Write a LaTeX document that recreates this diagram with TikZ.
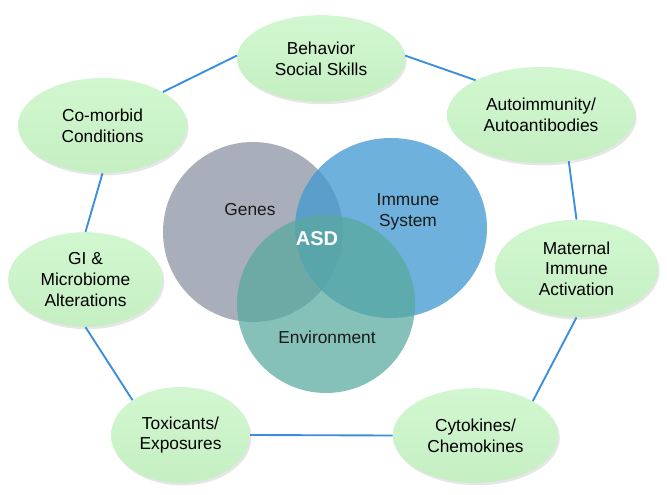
\documentclass[tikz,border=0pt]{standalone}
\usepackage{fontspec}
\setmainfont{Liberation Sans}
\usetikzlibrary{shapes.geometric,shadows}
\definecolor{leaftop}{HTML}{D2F7D0}
\definecolor{leafbot}{HTML}{C5EFC3}
\definecolor{linkblue}{HTML}{3A8EDB}
\definecolor{genesgray}{HTML}{A9AFBA}
\definecolor{immuneblue}{RGB}{67,154,210}
\definecolor{envteal}{RGB}{88,169,158}
\begin{document}
\begin{tikzpicture}[x=0.75pt,y=-0.75pt,
  factor/.style={ellipse, inner sep=0pt, top color=leaftop, bottom color=leafbot, draw=none,
    drop shadow={opacity=0.2, shadow xshift=1.2pt, shadow yshift=-1.8pt},
    align=center, font=\fontsize{13}{15.5}\selectfont, text=black},
  link/.style={draw=linkblue, line width=1.4pt},
  venn/.style={ellipse, inner sep=0pt, draw=none},
  vlabel/.style={font=\fontsize{13}{15.5}\selectfont, align=center, text=black!90}]
\useasboundingbox (0,0) rectangle (667,495);

% Venn circles
\node[venn, fill=genesgray, minimum width=135pt, minimum height=135pt] (genes) at (253,232) {};
\node[venn, fill=immuneblue, fill opacity=0.77, minimum width=144pt, minimum height=135pt] (immune) at (391,228) {};
\node[venn, fill=envteal, fill opacity=0.72, minimum width=133.5pt, minimum height=133.5pt] (env) at (326,304) {};

\node[vlabel] (lgenes) at (250,210) {Genes};
\node[vlabel] (limmune) at (408,212) {Immune\\System};
\node[vlabel] (lenv) at (327,337) {Environment};
\node[font=\fontsize{15}{18}\selectfont\bfseries, text=white] (asd) at (317,239) {ASD};

% surrounding factors
\node[factor, minimum width=126pt, minimum height=65pt] (beh) at (321,58.5) {Behavior\\Social Skills};
\node[factor, minimum width=141pt, minimum height=72pt] (auto) at (541,115) {Autoimmunity/\\Autoantibodies};
\node[factor, minimum width=126.75pt, minimum height=71.25pt] (com) at (102.5,125.5) {Co-morbid\\Conditions};
\node[factor, minimum width=116pt, minimum height=71pt] (gi) at (85.5,279.5) {GI \&\\Microbiome\\Alterations};
\node[factor, minimum width=104pt, minimum height=72pt] (tox) at (180.5,435) {Toxicants/\\Exposures};
\node[factor, minimum width=124pt, minimum height=71pt] (cyt) at (475.5,435.5) {Cytokines/\\Chemokines};
\node[factor, minimum width=122pt, minimum height=73pt] (mat) at (576.5,268.5) {Maternal\\Immune\\Activation};

% connectors
\draw[link] (beh.2) -- (auto.152);
\draw[link] (beh.178) -- (com.29.5);
\draw[link] (com.south) -- (gi.north);
\draw[link] (gi.south) -- (tox.144);
\draw[link] (tox.east) -- (cyt.west);
\draw[link] (cyt.31.5) -- (mat.south);
\draw[link] (mat.north) -- (auto.301);
\end{tikzpicture}
\end{document}
